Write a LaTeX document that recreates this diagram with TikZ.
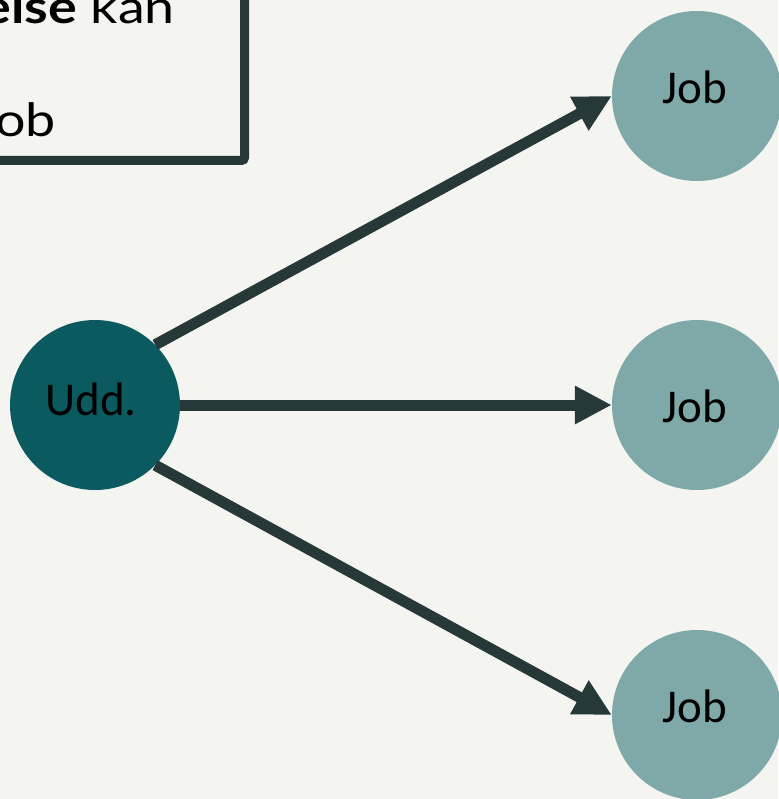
\documentclass[tikz,border=0pt]{standalone}
\usepackage{fontspec}
\setmainfont{Lato}
\newfontfamily\boxfont[FakeStretch=1.17]{Lato}
\newfontfamily\calib{Carlito}
\usetikzlibrary{arrows.meta}
\definecolor{bgc}{HTML}{F4F4F0}
\definecolor{darkc}{HTML}{263838}
\definecolor{uddc}{HTML}{0B5A5F}
\definecolor{jobc}{HTML}{7FA8A8}
\begin{document}
\begin{tikzpicture}[x=1pt,y=-1pt,
  uddnode/.style={circle,fill=uddc,minimum size=170pt,inner sep=0pt},
  jobnode/.style={circle,fill=jobc,minimum size=170pt,inner sep=0pt},
  lbl/.style={font=\calib\fontsize{47}{56}\selectfont,text=black,inner sep=0pt},
  boxtxt/.style={font=\boxfont\fontsize{46}{55}\selectfont,text=black,inner sep=0pt,anchor=base east},
  conn/.style={draw=darkc,line width=11pt,-{Triangle[length=37pt,width=36pt]}},
  boxline/.style={draw=darkc,line width=9pt,rounded corners=3pt}
]
\useasboundingbox (0,0) rectangle (778,799);
\fill[bgc] (0,0) rectangle (778,799);
% box
\coordinate (btop) at (244.5,-30);
\coordinate (bcorner) at (244.5,160.5);
\coordinate (bleft) at (-30,160.5);
\draw[boxline] (btop) -- (bcorner) -- (bleft);
\node[boxtxt] (t1) at (175,24) {\textbf{else} kan};
\node[boxtxt] (t2) at (56,137) {ob};
% circles
\node[uddnode] (udd) at (95,405) {};
\node[jobnode] (j1) at (697,96) {};
\node[jobnode] (j2) at (697,405) {};
\node[jobnode] (j3) at (697,715) {};
\node[lbl] (uddl) at (91,399) {Udd.};
\node[lbl] (j1l) at (695,87) {Job};
\node[lbl] (j2l) at (695,406) {Job};
\node[lbl] (j3l) at (695,706) {Job};
% connectors
\draw[conn] (udd.north east) -- (j1.west);
\draw[conn] (udd.east) -- (j2.west);
\draw[conn] (udd.south east) -- (j3.west);
\end{tikzpicture}
\end{document}
